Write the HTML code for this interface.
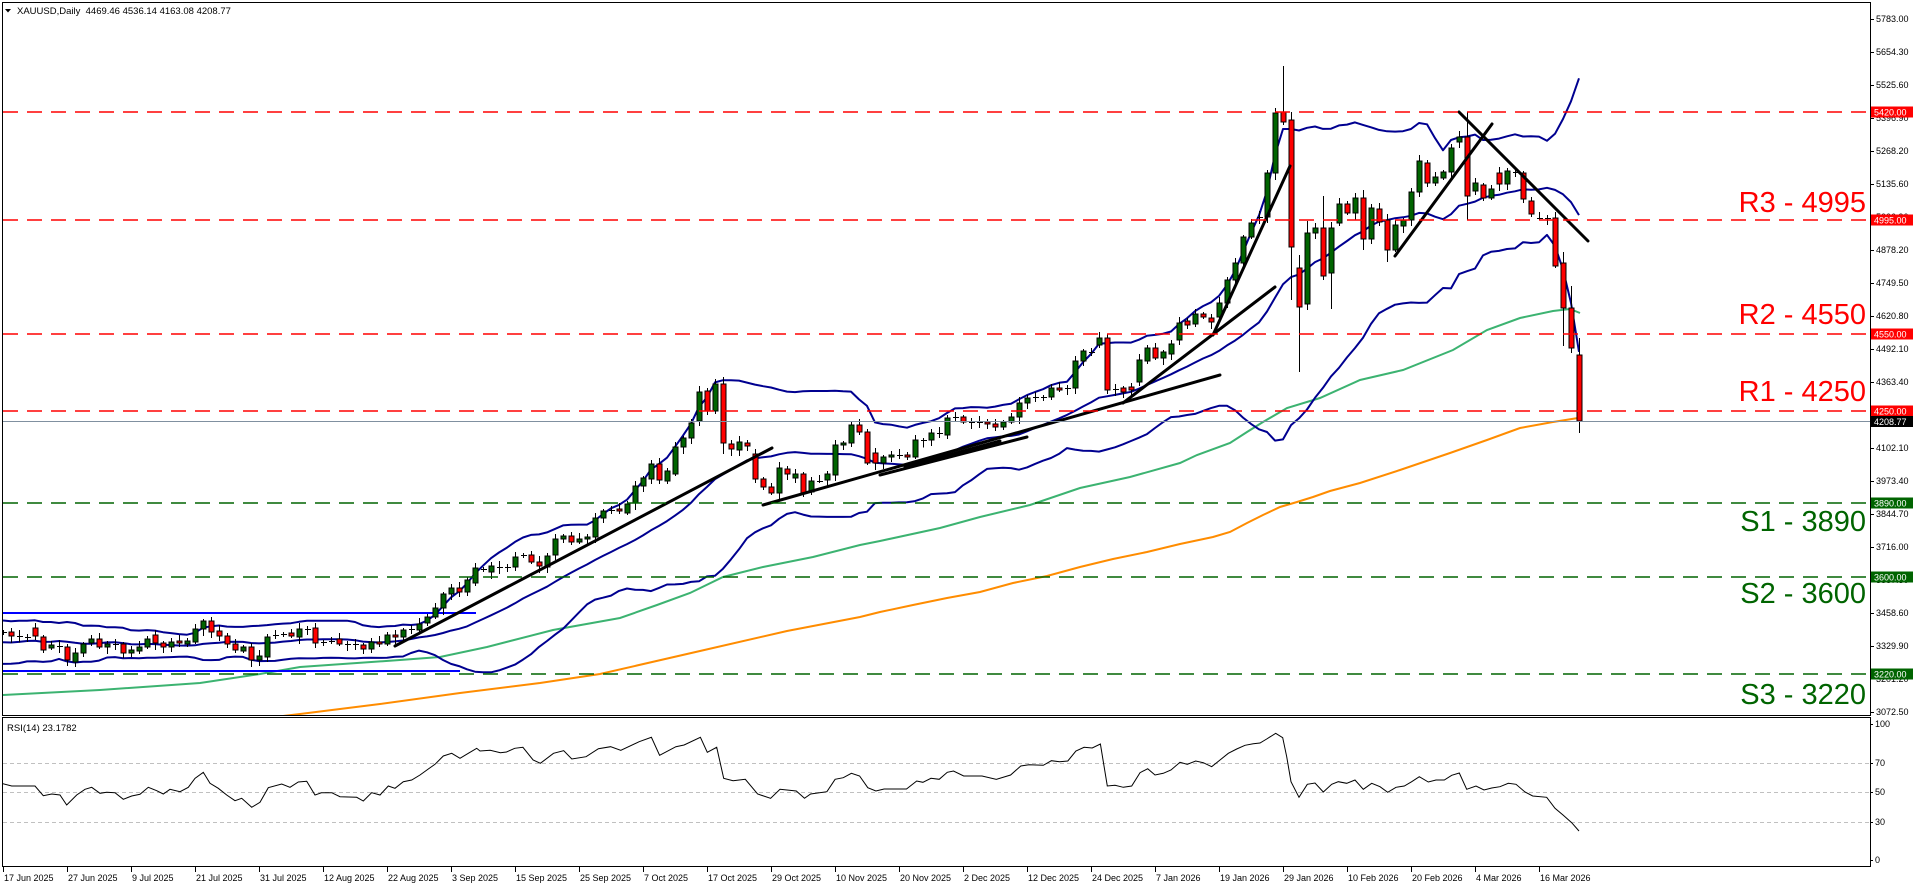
<!DOCTYPE html>
<html><head><meta charset="utf-8"><style>
html,body{margin:0;padding:0;background:#fff;}
svg{display:block;font-family:"Liberation Sans",Arial,sans-serif;}
</style></head><body>
<svg id="s" width="1916" height="888" viewBox="0 0 1916 888" xmlns="http://www.w3.org/2000/svg">
<defs><clipPath id="cm"><rect x="3" y="3" width="1867" height="712"/></clipPath>
<clipPath id="cr"><rect x="3" y="718" width="1867" height="149"/></clipPath></defs>
<rect width="1916" height="888" fill="#fff"/>
<g clip-path="url(#cm)">
<polyline fill="none" stroke="#3CB371" stroke-width="2" points="3,695 100,690 200,683 260,674 300,667 400,660 440,657 487,647 553,630 620,618 657,605 690,593 723,577 763,567 813,557 860,545 880,541 940,528 980,517 1030,505 1080,488 1130,477 1180,463 1197,455 1230,443 1247,432 1263,422 1287,408 1320,398 1360,380 1403,370 1453,350 1487,330 1520,318 1553,311 1570,309 1580,313"/>
<polyline fill="none" stroke="#FF8C00" stroke-width="2" points="283,716 300,714 380,704 460,693 540,683 600,674 700,651 787,631 860,617 880,612 913,605 947,598 980,592 1013,583 1047,576 1080,567 1113,559 1147,552 1180,544 1213,537 1230,532 1247,523 1263,515 1280,507 1297,502 1313,497 1330,491 1360,483 1400,470 1450,453 1487,440 1520,428 1553,422 1578,418"/>
<g id="bb"></g>
<line x1="3" y1="613" x2="476" y2="613" stroke="#0000FF" stroke-width="2"/>
<line x1="3" y1="671" x2="460" y2="671" stroke="#0000FF" stroke-width="2"/>
<g id="cd" shape-rendering="crispEdges"></g>
<g stroke="#000" stroke-width="3" stroke-linecap="round">
<line x1="395" y1="646" x2="772" y2="448"/>
<line x1="763" y1="505" x2="1220" y2="375"/>
<line x1="880" y1="475" x2="1027" y2="437"/>
<line x1="905" y1="467" x2="1000" y2="441"/>
<line x1="1123" y1="403" x2="1275" y2="287"/>
<line x1="1213" y1="335" x2="1290" y2="166"/>
<line x1="1395" y1="256" x2="1492" y2="124"/>
<line x1="1459" y1="112" x2="1588" y2="241"/>
</g>
<g stroke-width="1.5" stroke-dasharray="15 9" fill="none">
<line x1="3" y1="112" x2="1870" y2="112" stroke="#FF0000"/>
<line x1="3" y1="220" x2="1870" y2="220" stroke="#FF0000"/>
<line x1="3" y1="334" x2="1870" y2="334" stroke="#FF0000"/>
<line x1="3" y1="411" x2="1870" y2="411" stroke="#FF0000"/>
<line x1="3" y1="503" x2="1870" y2="503" stroke="#006400"/>
<line x1="3" y1="577" x2="1870" y2="577" stroke="#006400"/>
<line x1="3" y1="674" x2="1870" y2="674" stroke="#006400"/>
</g>
<line x1="3" y1="421.5" x2="1870" y2="421.5" stroke="#8090A0" stroke-width="1"/>
</g>
<g font-size="29" text-anchor="end">
<text x="1866" y="212" fill="#FF0000">R3 - 4995</text>
<text x="1866" y="324" fill="#FF0000">R2 - 4550</text>
<text x="1866" y="401" fill="#FF0000">R1 - 4250</text>
<text x="1866" y="531" fill="#006400">S1 - 3890</text>
<text x="1866" y="603" fill="#006400">S2 - 3600</text>
<text x="1866" y="704" fill="#006400">S3 - 3220</text>
</g>
<g fill="none" stroke="#000" stroke-width="1" shape-rendering="crispEdges">
<rect x="2.5" y="2.5" width="1868" height="713"/>
<rect x="2.5" y="717.5" width="1868" height="149"/>
</g>
<g font-size="9" fill="#000">
<text x="1876" y="22">5783.00</text>
<text x="1876" y="55">5654.30</text>
<text x="1876" y="88">5525.60</text>
<text x="1876" y="121">5396.90</text>
<text x="1876" y="154">5268.20</text>
<text x="1876" y="187">5135.60</text>
<text x="1876" y="220">5006.90</text>
<text x="1876" y="253">4878.20</text>
<text x="1876" y="286">4749.50</text>
<text x="1876" y="319">4620.80</text>
<text x="1876" y="352">4492.10</text>
<text x="1876" y="385">4363.40</text>
<text x="1876" y="418">4234.70</text>
<text x="1876" y="451">4102.10</text>
<text x="1876" y="484">3973.40</text>
<text x="1876" y="517">3844.70</text>
<text x="1876" y="550">3716.00</text>
<text x="1876" y="583">3587.30</text>
<text x="1876" y="616">3458.60</text>
<text x="1876" y="649">3329.90</text>
<text x="1876" y="682">3201.20</text>
<text x="1876" y="715">3072.50</text>
</g>
<g stroke="#000" shape-rendering="crispEdges">
<line x1="1870" y1="19.5" x2="1874" y2="19.5"/><line x1="1870" y1="52.5" x2="1874" y2="52.5"/><line x1="1870" y1="85.5" x2="1874" y2="85.5"/><line x1="1870" y1="118.5" x2="1874" y2="118.5"/><line x1="1870" y1="151.5" x2="1874" y2="151.5"/><line x1="1870" y1="184.5" x2="1874" y2="184.5"/><line x1="1870" y1="250.5" x2="1874" y2="250.5"/><line x1="1870" y1="283.5" x2="1874" y2="283.5"/><line x1="1870" y1="316.5" x2="1874" y2="316.5"/><line x1="1870" y1="349.5" x2="1874" y2="349.5"/><line x1="1870" y1="382.5" x2="1874" y2="382.5"/><line x1="1870" y1="448.5" x2="1874" y2="448.5"/><line x1="1870" y1="481.5" x2="1874" y2="481.5"/><line x1="1870" y1="514.5" x2="1874" y2="514.5"/><line x1="1870" y1="547.5" x2="1874" y2="547.5"/><line x1="1870" y1="613.5" x2="1874" y2="613.5"/><line x1="1870" y1="646.5" x2="1874" y2="646.5"/><line x1="1870" y1="712.5" x2="1874" y2="712.5"/>
<line x1="1870" y1="724.5" x2="1873" y2="724.5"/><line x1="1870" y1="763.5" x2="1873" y2="763.5"/><line x1="1870" y1="792.5" x2="1873" y2="792.5"/><line x1="1870" y1="822.5" x2="1873" y2="822.5"/><line x1="1870" y1="860.5" x2="1873" y2="860.5"/>
</g>
<g font-size="9" fill="#fff">
<rect x="1871" y="106.5" width="42" height="11" fill="#FF0000"/><text x="1874" y="115.5">5420.00</text>
<rect x="1871" y="214.5" width="42" height="11" fill="#FF0000"/><text x="1874" y="223.5">4995.00</text>
<rect x="1871" y="328.5" width="42" height="11" fill="#FF0000"/><text x="1874" y="337.5">4550.00</text>
<rect x="1871" y="405.5" width="42" height="11" fill="#FF0000"/><text x="1874" y="414.5">4250.00</text>
<rect x="1871" y="416" width="42" height="11" fill="#000"/><text x="1874" y="425">4208.77</text>
<rect x="1871" y="497.5" width="42" height="11" fill="#006400"/><text x="1874" y="506.5">3890.00</text>
<rect x="1871" y="571.5" width="42" height="11" fill="#006400"/><text x="1874" y="580.5">3600.00</text>
<rect x="1871" y="668.5" width="42" height="11" fill="#006400"/><text x="1874" y="677.5">3220.00</text>
</g>
<polygon points="5,9 11,9 8,12.5" fill="#000"/>
<text x="17" y="14" font-size="9.5" fill="#000" xml:space="preserve">XAUUSD,Daily  4469.46 4536.14 4163.08 4208.77</text>
<g stroke="#C0C0C0" stroke-width="1" stroke-dasharray="4 3" shape-rendering="crispEdges">
<line x1="3" y1="763.5" x2="1870" y2="763.5"/>
<line x1="3" y1="792.5" x2="1870" y2="792.5"/>
<line x1="3" y1="822.5" x2="1870" y2="822.5"/>
</g>
<g clip-path="url(#cr)">
<polyline fill="none" stroke="#000" stroke-width="1" points="2.7,783.7 11.7,786 35,786 43.3,795.7 51.7,794 60,795 66.7,805 76.7,795 85,789.3 91.7,787.3 100,793.3 106.7,792.3 115,792.7 123.3,799.3 131.7,796 140,794.3 148.3,787.3 156.7,790.7 163.3,794 170,789.3 180,791.7 188.3,787.3 195,778.3 203.3,772.3 210,783.3 218.3,788.3 226.7,795 235,800.7 241.7,798.3 251.7,807.3 260,802.3 268.3,787.7 281.7,784 290,787.3 298.3,782 306.7,781.3 315,795 321.7,792.7 331.7,792.7 340,796.7 356.7,797.3 363.3,801 371.7,792.7 380,795 388.3,786 395,788.3 403.3,781.7 411.7,780 420,775 428.3,769 435,764.3 443.3,756 451.7,753.3 460,758.3 468.3,753.3 476.7,748.3 480,751 490.2,750.3 500.4,752.7 506.5,752 514.7,748.3 522.9,747.3 533.1,760 540.4,763.3 553.5,753.3 563.7,750.7 571.8,759 586.1,756.7 598.4,748.7 610.6,746.7 620.8,750.3 639.2,741.7 651.4,737.3 659.6,755.3 675.9,746.7 684.1,745 700.4,737.3 707.3,752.3 716.7,747.3 723.7,778.3 733.1,780.7 745.3,779.3 757.6,794 770.6,798.3 780,789.3 796.3,791 804.5,798.3 810.6,794 826.9,791.7 835.1,779.3 843.3,777.7 851.4,773.3 859.6,776 867.8,787.7 875.9,791 884.1,789 906.5,789 916.7,781 922.9,782.3 931,778.3 939.2,779.3 947.3,772.3 953.5,771 963.7,776 982,776 996.3,779.3 1010.6,775 1020.8,766 1029,764.7 1043.3,765.3 1051.4,760.7 1059.6,761.7 1067.8,761 1075.9,751 1084.1,747.3 1092.2,748 1100.4,744 1107.3,786 1115,785.3 1123.3,787.3 1131.7,786 1140,772.7 1147.7,768.7 1155,775 1163.3,773.3 1171,770 1180,762.3 1187.3,764.3 1195.7,761 1203.3,762.7 1211.7,766.7 1220,760 1228.3,753.3 1236.7,749 1245,745.3 1253.3,743.7 1260,743 1266.7,739 1275.7,733.3 1282.7,737.7 1286.7,756.7 1291,781.7 1299,797.3 1307.3,784.3 1315,783 1323.3,792 1331.7,784.3 1338.3,781.7 1346.7,783.3 1355,780 1363.3,789.3 1371.7,783.3 1380,786.7 1387.7,792.3 1396,787.3 1404.3,786 1411.7,781.7 1419.3,776.7 1428.3,782 1436,780 1444.3,780 1451.7,775.3 1459.3,773 1466.7,789.3 1476,786 1484,790 1491.7,788 1500,786.7 1508.3,783.3 1516,784.3 1525,792 1532.7,796 1546.7,797.3 1555,808.3 1563.3,815.3 1571.7,822.7 1579,831"/>
</g>
<text x="7" y="731" font-size="9.5" fill="#000">RSI(14) 23.1782</text>
<g font-size="9" fill="#000">
<text x="1875" y="727">100</text>
<text x="1875" y="766">70</text>
<text x="1875" y="795">50</text>
<text x="1875" y="825">30</text>
<text x="1875" y="863">0</text>
</g>
<g stroke="#000" shape-rendering="crispEdges" id="dt"></g>
<g font-size="9" fill="#000">
<text x="4" y="881">17 Jun 2025</text>
<text x="68" y="881">27 Jun 2025</text>
<text x="132" y="881">9 Jul 2025</text>
<text x="196" y="881">21 Jul 2025</text>
<text x="260" y="881">31 Jul 2025</text>
<text x="324" y="881">12 Aug 2025</text>
<text x="388" y="881">22 Aug 2025</text>
<text x="452" y="881">3 Sep 2025</text>
<text x="516" y="881">15 Sep 2025</text>
<text x="580" y="881">25 Sep 2025</text>
<text x="644" y="881">7 Oct 2025</text>
<text x="708" y="881">17 Oct 2025</text>
<text x="772" y="881">29 Oct 2025</text>
<text x="836" y="881">10 Nov 2025</text>
<text x="900" y="881">20 Nov 2025</text>
<text x="964" y="881">2 Dec 2025</text>
<text x="1028" y="881">12 Dec 2025</text>
<text x="1092" y="881">24 Dec 2025</text>
<text x="1156" y="881">7 Jan 2026</text>
<text x="1220" y="881">19 Jan 2026</text>
<text x="1284" y="881">29 Jan 2026</text>
<text x="1348" y="881">10 Feb 2026</text>
<text x="1412" y="881">20 Feb 2026</text>
<text x="1476" y="881">4 Mar 2026</text>
<text x="1540" y="881">16 Mar 2026</text>
</g>
</svg>
<script>
(function(){
var P=[
[632,633],[632,636],[636,636.5],[637,637],[628,636],[637,650],[648,645],[646,646],[647,660],[662,653],
[653,644],[643,639],[639,647],[647,644],[644,644],[644,653],[653,650],[651,647],[647,639],[635,643],
[643,647],[647,642],[641,643],[644,641],[642,629],[629,621],[621,632],[631,636],[636,644],[644,650],
[651,647],[647,660],[660,656],[657,637],[635,635],[634,634],[633,636],[637,629],[629,629],[628,643],
[642,642],[641,641],[639,644],[644,644],[644,644],[645,649],[649,642],[642,644],[644,635],[635,637],
[637,630],[629,629],[630,624],[623,617],[617,608],[608,594],[594,588],[588,592],[592,580],[583,568],
[569,570],[572,566],[567,568],[567,567],[567,557],[555,555],[555,562],[562,566],[567,556],[555,539],
[539,536],[536,542],[542,539],[539,537],[537,518],[518,511],[510,510],[509,511],[513,504],[503,486],
[486,478],[479,464],[464,480],[481,471],[474,447],[447,438],[438,423],[421,392],[391,411],[411,384],
[384,443],[444,449],[450,442],[443,446],[454,479],[479,487],[487,493],[493,468],[469,474],[478,474],
[474,493],[492,481],[481,481],[480,474],[475,445],[445,443],[443,425],[425,432],[432,463],[453,463],
[463,457],[457,455],[455,455],[455,457],[457,440],[440.5,440],[440,433],[433,433],[435,418],[418,417],
[417,422],[422,422],[422,422],[422,424],[424,427],[427,422],[422,417],[417,403],[403,398],[397,397],
[397,397],[397,388],[388,390],[388,388],[388,361],[361,351],[352,352],[345,338],[338,390],[389,389],
[388,392],[387,390],[382,360],[361,348],[348,358],[358,352],[354,344],[340,323],[321,325],[324,314],
[314,317],[318,322],[317,303],[303,280],[280,263],[263,237],[237,223],[217,217],[217,173],[173,113],
[112,122],[120,247],[268,307],[304,233],[233,228],[228,276],[273,228],[223,204],[204,213],[213,198],
[198,239],[239,208],[209,222],[220,250],[250,225],[226,220],[220,192],[192,161],[163,183],[183,177],
[178,172],[172,148],[142,137],[137,196],[191,183],[185,198],[198,189],[173,184],[184,171],[172,172],
[173,199],[201,214],[218,218],[218,218],[218,266],[263,308],[308,348],[355,421]];
var OV={90:[377,454],138:[334,394],159:[108,180],160:[66,125],161:[112,300],162:[255,372],163:[221,310],165:[196,280],166:[222,309],170:[190,250],173:[214,262],183:[112,220],194:[212,268],195:[252,346],196:[286,353],197:[338,433]};
var g='';
for(var i=0;i<P.length;i++){
 var x=3+8*i,o=P[i][0],c=P[i][1];
 var t=Math.min(o,c),b=Math.max(o,c);
 var hi=t-(2+(i*7)%5),lo=b+(2+(i*11)%6);
 if(OV[i]){hi=OV[i][0];lo=OV[i][1];}
 g+='<line x1="'+(x+0.5)+'" y1="'+hi+'" x2="'+(x+0.5)+'" y2="'+lo+'" stroke="#000" stroke-width="1"/>';
 if(b-t<1.5){g+='<line x1="'+(x-2)+'" y1="'+(Math.round(t)+0.5)+'" x2="'+(x+4)+'" y2="'+(Math.round(t)+0.5)+'" stroke="#000" stroke-width="1"/>';}
 else{g+='<rect x="'+(x-2)+'" y="'+t+'" width="5" height="'+(b-t)+'" fill="'+(c<o?'#006400':'#FF0000')+'" stroke="#000" stroke-width="1"/>';}
}
document.getElementById('cd').innerHTML=g;
var pre=[630,648,655,640,628,650,660,645,632,625,640,655,662,648,635,628,642,650,638];
var cl=pre.slice();for(i=0;i<P.length;i++)cl.push(P[i][1]);
var up=[],md=[],dn=[];
for(i=0;i<P.length;i++){
 var s=0,j;for(j=i;j<i+20;j++)s+=cl[j];var m=s/20;var v=0;for(j=i;j<i+20;j++)v+=(cl[j]-m)*(cl[j]-m);var sd=Math.sqrt(v/20);
 var x=3+8*i;up.push(x+','+(m-2*sd).toFixed(1));md.push(x+','+m.toFixed(1));dn.push(x+','+(m+2*sd).toFixed(1));
}
var bb='';
[up,md,dn].forEach(function(a){bb+='<polyline fill="none" stroke="#000090" stroke-width="2" stroke-linejoin="round" points="'+a.join(' ')+'"/>';});
document.getElementById('bb').innerHTML=bb;
var d='';for(i=0;i<25;i++){var tx=3+64*i+0.5;d+='<line x1="'+tx+'" y1="867" x2="'+tx+'" y2="872"/>';}
document.getElementById('dt').innerHTML=d;
})();
</script>
</body></html>
